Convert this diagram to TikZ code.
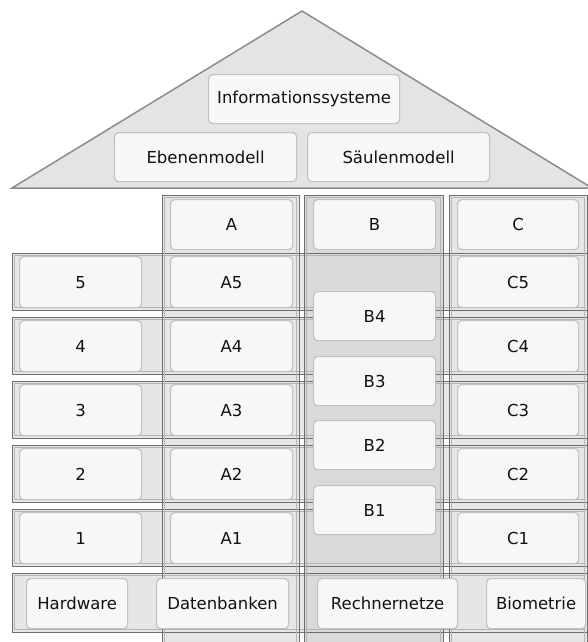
\documentclass[tikz,border=0pt]{standalone}
\usepackage{fontspec}
\setmainfont{DejaVu Sans}
\definecolor{rooffill}{HTML}{E4E4E4}
\definecolor{roofline}{HTML}{8C8C8C}
\definecolor{rowfill}{HTML}{E6E6E6}
\definecolor{bfill}{HTML}{D9D9D9}
\definecolor{outerline}{HTML}{6E6E6E}
\definecolor{innerline}{HTML}{B4B4B4}
\definecolor{boxfill}{HTML}{F7F7F7}
\definecolor{boxline}{HTML}{C2C2C2}
\definecolor{textc}{HTML}{111111}
\newcommand\dframe[4]{%
  \draw[outerline,line width=0.9pt] (#1,#2) rectangle (#3,#4);
  \draw[innerline,line width=0.8pt] (#1+2.5,#2+2.5) rectangle (#3-2.5,#4-2.5);}
\begin{document}
\begin{tikzpicture}[x=1pt,y=-1pt,
  box/.style={draw=boxline, fill=boxfill, rounded corners=4pt, line width=1.2pt,
    anchor=north west, inner sep=0pt, text=textc, font=\fontsize{16.5}{18}\selectfont},
  wide/.style={minimum width=122pt, minimum height=51pt}]
\useasboundingbox (0,0) rectangle (588,642);
\clip (0,0) rectangle (588,642);
% roof
\draw[fill=rooffill, draw=roofline, line width=1.5pt, line join=miter]
  (12,188) -- (302,11) -- (592,188) -- cycle;
% fills
\foreach \t in {253,317,381,445,509} \fill[rowfill] (12,\t) rectangle (587,\t+57);
\fill[rowfill] (12,573) rectangle (587,632);
\fill[rowfill] (162,195) rectangle (299,650);
\fill[bfill] (304,195) rectangle (443,650);
\fill[rowfill] (449,195) rectangle (587,650);
% outlines
\foreach \t in {253,317,381,445,509} {\dframe{12}{\t}{587}{\t+57}}
\dframe{12}{573}{587}{632}
\dframe{162}{195}{299}{660}
\dframe{304}{195}{443}{660}
\dframe{449}{195}{587}{660}
% roof boxes
\node[box, minimum width=191pt, minimum height=49pt] (info) at (208,74) {Informationssysteme};
\node[box, minimum width=182pt, minimum height=49pt] (eben) at (114,132) {Ebenenmodell};
\node[box, minimum width=182pt, minimum height=49pt] (saeul) at (307,132) {Säulenmodell};
% headers
\node[box, minimum width=122pt, minimum height=50pt] (hA) at (170,199) {A};
\node[box, minimum width=122pt, minimum height=50pt] (hB) at (313,199) {B};
\node[box, minimum width=121pt, minimum height=50pt] (hC) at (457,199) {C};
% rows
\foreach \k/\t in {5/253,4/317,3/381,2/445,1/509} {
  \node[box, wide] (r\k) at (19,\t+3) {\k};
  \node[box, wide] (a\k) at (170,\t+3) {A\k};
  \node[box, wide, minimum width=121pt] (c\k) at (457,\t+3) {C\k};
}
\foreach \k/\t in {4/291,3/356,2/420,1/485}
  \node[box, minimum width=122pt, minimum height=49pt] (b\k) at (313,\t) {B\k};
% bottom row
\node[box, minimum width=101pt, minimum height=50pt] (hw) at (26,578) {Hardware};
\node[box, minimum width=132pt, minimum height=50pt] (db) at (156,578) {Datenbanken};
\node[box, minimum width=140pt, minimum height=50pt] (rn) at (317,578) {Rechnernetze};
\node[box, minimum width=99pt, minimum height=50pt] (bio) at (486,578) {Biometrie};
\end{tikzpicture}
\end{document}
